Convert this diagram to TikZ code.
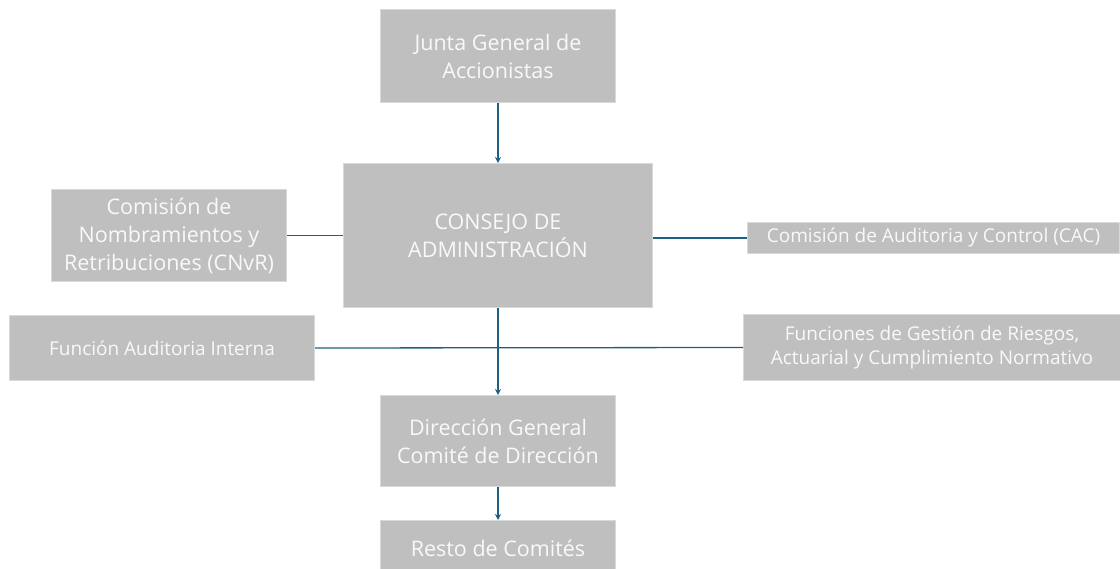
\documentclass[tikz,border=0pt]{standalone}
\usepackage{fontspec}
\setmainfont{Open Sans}
\usetikzlibrary{arrows.meta}
\definecolor{boxfill}{HTML}{BFBFBF}
\definecolor{boxline}{HTML}{D9D9D9}
\definecolor{txt}{HTML}{F9F9F9}
\definecolor{conn}{HTML}{1F5F82}
\begin{document}
\begin{tikzpicture}[x=1pt,y=-1pt,
  box/.style={draw=boxline,line width=1pt,fill=boxfill,text=txt,align=center,inner sep=0pt,anchor=north west},
  big/.style={font=\fontsize{21.5}{28}\selectfont},
  small/.style={font=\fontsize{19}{24}\selectfont},
  link/.style={draw=conn,line width=1.3pt},
  arr/.style={link,-{Stealth[length=6pt,width=6pt]}}]
\useasboundingbox (0,0) rectangle (1120,569);
\node[box,big,minimum width=235pt,minimum height=93pt] (jg) at (380,9) {Junta General de\\Accionistas};
\node[box,big,minimum width=309pt,minimum height=144pt] (ca) at (343,163) {CONSEJO DE\\ADMINISTRACIÓN};
\node[box,big,minimum width=235pt,minimum height=92pt] (cn) at (51,189) {Comisión de\\Nombramientos y\\Retribuciones (CNvR)};
\node[box,small,minimum width=372pt,minimum height=31pt] (cac) at (747,222) {Comisión de Auditoria y Control (CAC)};
\node[box,small,minimum width=305pt,minimum height=65pt] (fai) at (9,315) {Función Auditoria Interna};
\node[box,small,minimum width=377pt,minimum height=66pt] (fg) at (743,314) {Funciones de Gestión de Riesgos,\\Actuarial y Cumplimiento Normativo};
\node[box,big,minimum width=235pt,minimum height=91pt] (dg) at (380,395) {Dirección General\\Comité de Dirección};
\node[box,big,minimum width=235pt,minimum height=56pt] (rc) at (380,520) {Resto de Comités};
\draw[arr] (jg.south) -- (ca.north);
\draw[arr] (ca.south) -- (dg.north);
\draw[arr] (dg.south) -- (rc.north);
\draw[link] (cn.east) -- (cn.east -| ca.west);
\draw[link] (cac.west -| ca.east) -- (cac.west);
\draw[link] (fai.east) -- (fg.west);
\end{tikzpicture}
\end{document}
